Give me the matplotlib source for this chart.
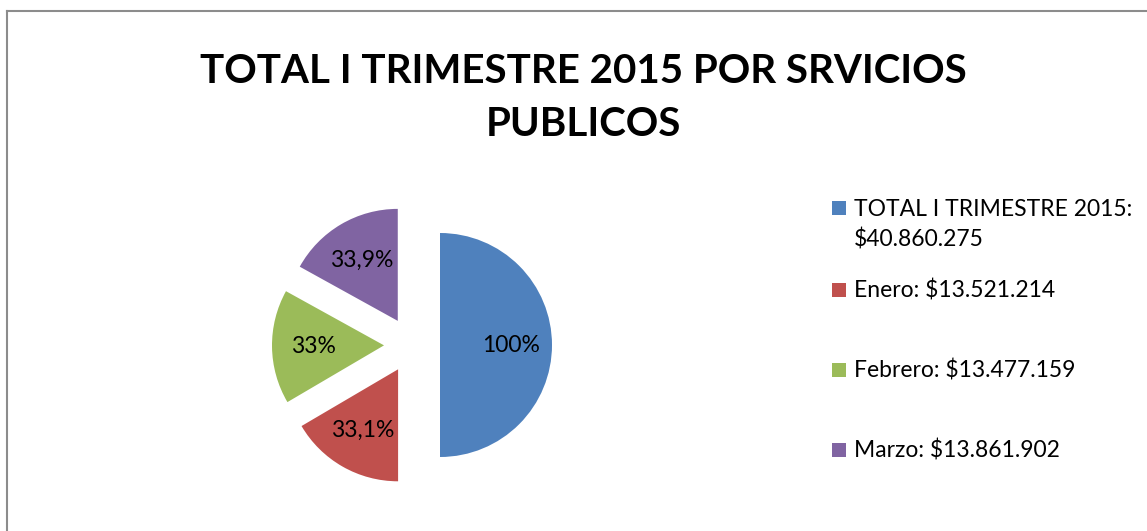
import matplotlib
matplotlib.use("Agg")
import matplotlib.pyplot as plt
from matplotlib.lines import Line2D
from matplotlib.patches import Rectangle

# ── data ──
names = ["TOTAL I TRIMESTRE 2015", "Enero", "Febrero", "Marzo"]
amounts = [40860275, 13521214, 13477159, 13861902]
amount_txt = ["$40.860.275", "$13.521.214", "$13.477.159", "$13.861.902"]
pct_labels = ["100%", "33,1%", "33%", "33,9%"]
colors = ["#4F81BD", "#C0504D", "#9BBB59", "#8064A2"]

W, H = 1147, 531
plt.rcParams["font.family"] = ["Lato", "DejaVu Sans"]
fig = plt.figure(figsize=(W / 100, H / 100), dpi=100)

# pie axes: centre (412, 345) px, radius 112 px
cx, cy, r = 412, 345, 112
half = 1.5 * r
ax = fig.add_axes([(cx - half) / W, (H - cy - half) / H, 2 * half / W, 2 * half / H])
wedges, texts = ax.pie(amounts, colors=colors, startangle=90, counterclock=False,
                       explode=[0.25] * 4, labels=pct_labels, labeldistance=0.63,
                       wedgeprops=dict(linewidth=0),
                       textprops=dict(fontsize=16.5, color="black"))
for t in texts:
    t.set_ha("center"); t.set_va("center")
ax.set_xlim(-1.5, 1.5); ax.set_ylim(-1.5, 1.5)
ax.set_aspect("equal"); ax.axis("off")

# title
fig.text(583 / W, 1 - 71 / H, "TOTAL I TRIMESTRE 2015 POR SRVICIOS", ha="center",
         va="center", fontsize=29, fontweight="bold")
fig.text(583 / W, 1 - 124 / H, "PUBLICOS", ha="center", va="center",
         fontsize=29, fontweight="bold")

# legend (manual, uneven row spacing like the original)
rows = [(225, "TOTAL I TRIMESTRE 2015:\n" + amount_txt[0]), (290, None), (370, None), (450, None)]
for i, (y, txt) in enumerate(rows):
    if txt is None:
        txt = f"{names[i]}: {amount_txt[i]}"
    sy = y if i else 208
    fig.patches.append(Rectangle(((832) / W, (H - sy - 7) / H), 14 / W, 14 / H,
                                 transform=fig.transFigure, facecolor=colors[i],
                                 edgecolor="none"))
    fig.text(854 / W, 1 - y / H, txt, ha="left", va="center", fontsize=16.5,
             linespacing=1.45)

# frame lines (left + top)
fig.add_artist(Line2D([7 / W, 7 / W], [0, 1 - 11 / H], transform=fig.transFigure,
                      color="#8c8c8c", lw=1.5))
fig.add_artist(Line2D([7 / W, 1], [1 - 11 / H, 1 - 11 / H], transform=fig.transFigure,
                      color="#8c8c8c", lw=1.5))

fig.savefig("out.png", dpi=100, facecolor="white")
